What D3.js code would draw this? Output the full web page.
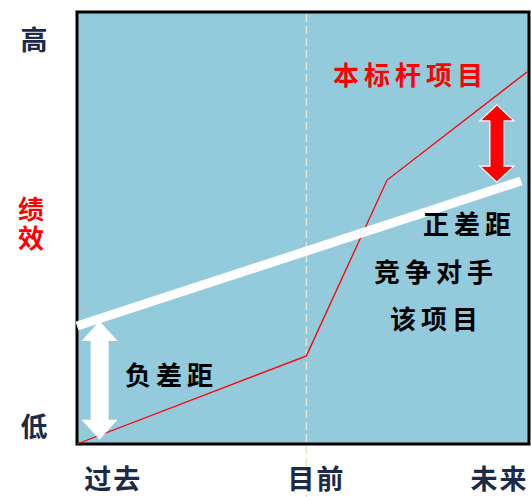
<!DOCTYPE html>
<html>
<head>
<meta charset="utf-8">
<script src="https://d3js.org/d3.v7.min.js"></script>
<style>
  body { margin: 0; background: #fff; }
  text { font-family: "Noto Sans CJK SC", sans-serif; font-weight: bold; }
</style>
</head>
<body>
<script>
  // time: 0 = past, ~1 = now, 2 = future ; performance: 0 = low, 100 = high
  var timeLabels = ["过去", "目前", "未来"];
  var timeTicks = [0.16, 1.06, 1.87];
  var nowTime = 1.015;
  var perfLabels = ["高", "低"];
  var perfTicks = [93.5, 4];
  var perfTitle = "绩效";

  var benchmark = [[0, 0], [1.015, 20.4], [1.372, 61.1], [1.991, 86.1]]; // 本标杆项目
  var competitor = [[0, 27.3], [1.965, 60.9]];                         // 竞争对手该项目
  var negGap = {t: 0.1, from: 1, to: 28.5};
  var posGap = {t: 1.858, from: 60.6, to: 78.5};

  var width = 531, height = 497;
  var pLeft = 77, pTop = 12, pRight = 529, pBottom = 444;

  var x = d3.scaleLinear().domain([0, 2]).range([pLeft, pRight]);
  var y = d3.scaleLinear().domain([0, 100]).range([pBottom, pTop]);

  var svg = d3.select("body").append("svg")
      .attr("width", width)
      .attr("height", height);

  svg.append("rect")
      .attr("x", pLeft).attr("y", pTop)
      .attr("width", pRight - pLeft).attr("height", pBottom - pTop)
      .attr("fill", "#93cbdc")
      .attr("stroke", "#000").attr("stroke-width", 3);

  // dashed "now" line
  svg.append("line")
      .attr("x1", x(nowTime)).attr("x2", x(nowTime))
      .attr("y1", pTop + 2).attr("y2", height)
      .attr("stroke", "#e8e2cc").attr("stroke-width", 1.5)
      .attr("stroke-dasharray", "8,4");

  var line = d3.line().x(function(d){return x(d[0]);}).y(function(d){return y(d[1]);});

  svg.append("path")
      .attr("d", line(benchmark))
      .attr("fill", "none").attr("stroke", "#f00").attr("stroke-width", 1.3);

  svg.append("path")
      .attr("d", line(competitor))
      .attr("fill", "none").attr("stroke", "#fff").attr("stroke-width", 9);

  // double arrow
  function dblArrow(cx, y1, y2, shaft, headW, headL) {
    var s = shaft / 2, h = headW / 2;
    var pts = [[cx, y1], [cx + h, y1 + headL], [cx + s, y1 + headL], [cx + s, y2 - headL],
               [cx + h, y2 - headL], [cx, y2], [cx - h, y2 - headL], [cx - s, y2 - headL],
               [cx - s, y1 + headL], [cx - h, y1 + headL]];
    return "M" + pts.join("L") + "Z";
  }

  svg.append("path")
      .attr("d", dblArrow(x(negGap.t), y(negGap.to), y(negGap.from), 18, 36, 20))
      .attr("fill", "#fff");

  svg.append("path")
      .attr("d", dblArrow(x(posGap.t), y(posGap.to), y(posGap.from), 14, 34, 16))
      .attr("fill", "#f00").attr("stroke", "#fff").attr("stroke-width", 1.2);

  // axis labels
  svg.selectAll(".tlab").data(timeLabels).enter().append("text")
      .attr("x", function(d, i){return x(timeTicks[i]);})
      .attr("y", 489)
      .attr("text-anchor", "middle")
      .attr("font-size", 27)
      .attr("letter-spacing", 2)
      .attr("fill", "#1b2a47")
      .text(function(d){return d;});

  svg.selectAll(".plab").data(perfLabels).enter().append("text")
      .attr("x", 34)
      .attr("y", function(d, i){return y(perfTicks[i]) + 10;})
      .attr("text-anchor", "middle")
      .attr("font-size", 27)
      .attr("fill", "#1b2a47")
      .text(function(d){return d;});

  // vertical title
  svg.append("text")
      .attr("x", 31)
      .attr("y", 196)
      .attr("writing-mode", "vertical-rl")
      .attr("font-size", 26)
      .attr("letter-spacing", 3)
      .attr("fill", "#f00")
      .text(perfTitle);

  // annotations
  var notes = [
    {t: "本标杆项目", x: 333, y: 85, c: "#f00"},
    {t: "正差距", x: 423, y: 234, c: "#000"},
    {t: "竞争对手", x: 374, y: 282, c: "#000"},
    {t: "该项目", x: 390, y: 329, c: "#000"},
    {t: "负差距", x: 125, y: 385, c: "#000"}
  ];
  svg.selectAll(".note").data(notes).enter().append("text")
      .attr("x", function(d){return d.x;})
      .attr("y", function(d){return d.y;})
      .attr("font-size", 26)
      .attr("letter-spacing", 5)
      .attr("fill", function(d){return d.c;})
      .text(function(d){return d.t;});
</script>
</body>
</html>
